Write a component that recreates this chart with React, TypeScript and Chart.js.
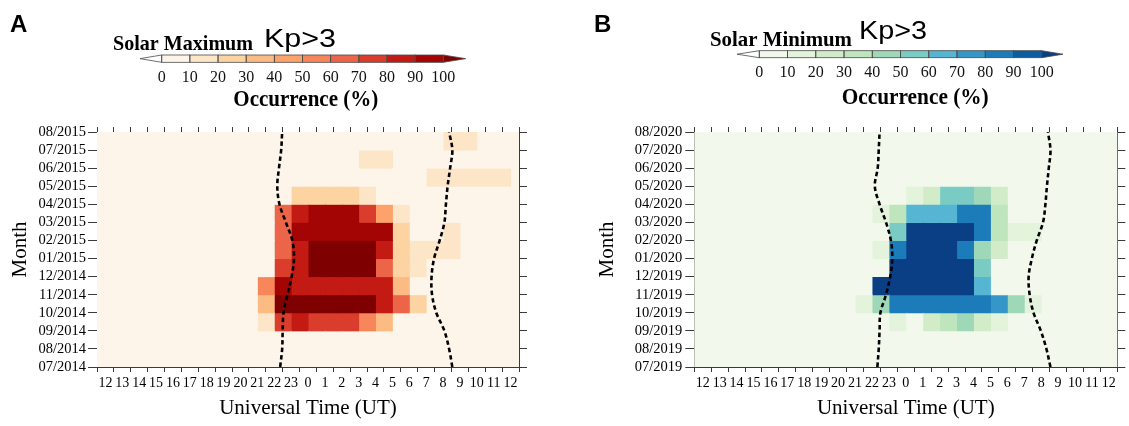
import React, { useEffect, useRef } from 'react';
import { Chart, registerables } from 'chart.js';

Chart.register(...registerables);

const SERIF = '"Liberation Serif", "Times New Roman", serif';
const SANS = '"Liberation Sans", Arial, sans-serif';

// ---------- data ----------
const xTickLabels = ['12', '13', '14', '15', '16', '17', '18', '19', '20', '21', '22', '23', '0', '1', '2', '3', '4', '5', '6', '7', '8', '9', '10', '11', '12'];

const maxMonthTicks = ['07/2014', '08/2014', '09/2014', '10/2014', '11/2014', '12/2014', '01/2015', '02/2015', '03/2015', '04/2015', '05/2015', '06/2015', '07/2015', '08/2015'];
const minMonthTicks = ['07/2019', '08/2019', '09/2019', '10/2019', '11/2019', '12/2019', '01/2020', '02/2020', '03/2020', '04/2020', '05/2020', '06/2020', '07/2020', '08/2020'];

const colorbarTicks = [0, 10, 20, 30, 40, 50, 60, 70, 80, 90, 100];

const maxColors = ['#fdf5ea', '#fde5c8', '#fdd3a1', '#fdbb84', '#fca26a', '#f7875a', '#ec6548', '#da3d2b', '#c31a13', '#a30404', '#7f0000'];
const minColors = ['#f2f9ec', '#e3f3dc', '#d2ecc9', '#bee5bc', '#9fd8b8', '#7acbc4', '#55b5d3', '#3597c7', '#1c7bb9', '#0b5ca0', '#0a3e85'];

// occurrence (%) per month row (bottom -> top) and UT hour column (12 UT ... 11 UT)
const maxOccurrence = [
  [0, 0, 0, 0, 0, 0, 0, 0, 0, 0, 0, 0, 0, 0, 0, 0, 0, 0, 0, 0, 0, 0, 0, 0],
  [0, 0, 0, 0, 0, 0, 0, 0, 0, 0, 0, 0, 0, 0, 0, 0, 0, 0, 0, 0, 0, 0, 0, 0],
  [0, 0, 0, 0, 0, 0, 0, 0, 0, 12, 74, 86, 73, 72, 74, 55, 38, 0, 0, 0, 0, 0, 0, 0],
  [0, 0, 0, 0, 0, 0, 0, 0, 0, 36, 100, 100, 100, 100, 100, 100, 85, 64, 22, 0, 0, 0, 0, 0],
  [0, 0, 0, 0, 0, 0, 0, 0, 0, 53, 94, 84, 83, 85, 84, 82, 84, 37, 0, 0, 0, 0, 0, 0],
  [0, 0, 0, 0, 0, 0, 0, 0, 0, 0, 76, 88, 100, 100, 100, 100, 66, 26, 13, 0, 0, 0, 0, 0],
  [0, 0, 0, 0, 0, 0, 0, 0, 0, 0, 66, 88, 100, 100, 100, 100, 86, 26, 13, 13, 13, 0, 0, 0],
  [0, 0, 0, 0, 0, 0, 0, 0, 0, 0, 65, 95, 96, 94, 95, 93, 92, 27, 0, 0, 12, 0, 0, 0],
  [0, 0, 0, 0, 0, 0, 0, 0, 0, 0, 64, 86, 95, 96, 94, 75, 44, 12, 0, 0, 0, 0, 0, 0],
  [0, 0, 0, 0, 0, 0, 0, 0, 0, 0, 0, 24, 26, 27, 25, 17, 0, 0, 0, 0, 0, 0, 0, 0],
  [0, 0, 0, 0, 0, 0, 0, 0, 0, 0, 0, 0, 0, 0, 0, 0, 0, 0, 0, 12, 11, 13, 12, 10],
  [0, 0, 0, 0, 0, 0, 0, 0, 0, 0, 0, 0, 0, 0, 0, 11, 12, 0, 0, 0, 0, 0, 0, 0],
  [0, 0, 0, 0, 0, 0, 0, 0, 0, 0, 0, 0, 0, 0, 0, 0, 0, 0, 0, 0, 12, 11, 0, 0],
];

const minOccurrence = [
  [0, 0, 0, 0, 0, 0, 0, 0, 0, 0, 0, 0, 0, 0, 0, 0, 0, 0, 0, 0, 0, 0, 0, 0],
  [0, 0, 0, 0, 0, 0, 0, 0, 0, 0, 0, 0, 0, 0, 0, 0, 0, 0, 0, 0, 0, 0, 0, 0],
  [0, 0, 0, 0, 0, 0, 0, 0, 0, 0, 0, 12, 0, 22, 33, 44, 22, 12, 0, 0, 0, 0, 0, 0],
  [0, 0, 0, 0, 0, 0, 0, 0, 0, 12, 44, 84, 84, 85, 84, 83, 84, 76, 42, 12, 0, 0, 0, 0],
  [0, 0, 0, 0, 0, 0, 0, 0, 0, 0, 100, 100, 100, 100, 100, 100, 66, 0, 0, 0, 0, 0, 0, 0],
  [0, 0, 0, 0, 0, 0, 0, 0, 0, 0, 0, 100, 100, 100, 100, 100, 58, 0, 0, 0, 0, 0, 0, 0],
  [0, 0, 0, 0, 0, 0, 0, 0, 0, 0, 14, 84, 100, 100, 100, 84, 43, 24, 0, 0, 0, 0, 0, 0],
  [0, 0, 0, 0, 0, 0, 0, 0, 0, 0, 0, 56, 100, 100, 100, 100, 84, 32, 12, 12, 0, 0, 0, 0],
  [0, 0, 0, 0, 0, 0, 0, 0, 0, 0, 13, 34, 65, 66, 65, 84, 84, 31, 0, 0, 0, 0, 0, 0],
  [0, 0, 0, 0, 0, 0, 0, 0, 0, 0, 0, 0, 13, 23, 56, 56, 43, 22, 0, 0, 0, 0, 0, 0],
  [0, 0, 0, 0, 0, 0, 0, 0, 0, 0, 0, 0, 0, 0, 0, 0, 0, 0, 0, 0, 0, 0, 0, 0],
  [0, 0, 0, 0, 0, 0, 0, 0, 0, 0, 0, 0, 0, 0, 0, 0, 0, 0, 0, 0, 0, 0, 0, 0],
  [0, 0, 0, 0, 0, 0, 0, 0, 0, 0, 0, 0, 0, 0, 0, 0, 0, 0, 0, 0, 0, 0, 0, 0],
];

// dashed terminator curves, UT at each month tick (bottom -> top)
const maxEveningUT = [22.35, 22.47, 22.5, 22.55, 22.78, 23.03, 23.17, 23.07, 22.69, 22.31, 22.18, 22.28, 22.41, 22.47];
const maxMorningUT = [8.55, 8.36, 8.08, 7.6, 7.35, 7.32, 7.47, 7.8, 8.08, 8.17, 8.27, 8.42, 8.55, 8.36];
const minEveningUT = [22.32, 22.4, 22.45, 22.5, 22.83, 23.08, 23.2, 23.12, 22.83, 22.45, 22.17, 22.34, 22.4, 22.45];
const minMorningUT = [8.55, 8.31, 7.98, 7.55, 7.32, 7.26, 7.45, 7.74, 8.11, 8.25, 8.34, 8.45, 8.55, 8.4];

// ---------- helpers ----------
function toAxisHour(ut: number) {
  return (ut - 12 + 24) % 24;
}
function binColor(v: number, colors: string[]) {
  return colors[Math.min(10, Math.floor(v / 10))];
}
function fitText(ctx: CanvasRenderingContext2D, text: string, x: number, baseline: number, font: string, width?: number) {
  ctx.save();
  ctx.font = font;
  ctx.textAlign = 'left';
  ctx.textBaseline = 'alphabetic';
  ctx.fillStyle = '#000';
  const w = ctx.measureText(text).width;
  const s = width ? width / w : 1;
  ctx.translate(x, baseline);
  ctx.scale(s, 1);
  ctx.fillText(text, 0, 0);
  ctx.restore();
}

type Deco = {
  letter: string; letterX: number; letterY: number;
  title: string; titleX: number; titleY: number; titleW: number; titleSize: number;
  kpX: number; kpY: number; kpW: number; kpSize: number;
  tipL: number; barX0: number; barX1: number; barY0: number; barY1: number; tipR: number;
  numY: number;
  occX: number; occY: number; occW: number; occSize: number;
};

type PanelSpec = {
  canvasLeft: number; canvasWidth: number;
  months: string[]; occurrence: number[][]; colors: string[];
  evening: number[]; morning: number[];
  yAxisWidth: number; rightPad: number; monthTitlePad: number; yTickPad: number;
  deco: Deco;
};

const maxSpec: PanelSpec = {
  canvasLeft: 0, canvasWidth: 580,
  months: maxMonthTicks, occurrence: maxOccurrence, colors: maxColors,
  evening: maxEveningUT, morning: maxMorningUT,
  yAxisWidth: 97, rightPad: 53, monthTitlePad: 8, yTickPad: 2,
  deco: {
    letter: 'A', letterX: 10, letterY: 32,
    title: 'Solar Maximum', titleX: 113, titleY: 50, titleW: 140, titleSize: 22,
    kpX: 264, kpY: 46.7, kpW: 72, kpSize: 26,
    tipL: 140, barX0: 161.7, barX1: 443.3, barY0: 55, barY1: 62.3, tipR: 465.7,
    numY: 77.3,
    occX: 233.3, occY: 106, occW: 145, occSize: 23,
  },
};

const minSpec: PanelSpec = {
  canvasLeft: 580, canvasWidth: 549,
  months: minMonthTicks, occurrence: minOccurrence, colors: minColors,
  evening: minEveningUT, morning: minMorningUT,
  yAxisWidth: 114.3, rightPad: 3.7, monthTitlePad: 15, yTickPad: 3,
  deco: {
    letter: 'B', letterX: 14, letterY: 31.5,
    title: 'Solar Minimum', titleX: 130, titleY: 46, titleW: 142, titleSize: 21,
    kpX: 279, kpY: 38.5, kpW: 68, kpSize: 25,
    tipL: 157, barX0: 179.3, barX1: 461.7, barY0: 50.7, barY1: 57.7, tipR: 483,
    numY: 72.5,
    occX: 261.7, occY: 104, occW: 147, occSize: 23,
  },
};

function makeConfig(spec: PanelSpec): any {
  const rowLabels = spec.months.slice(0, spec.months.length - 1);
  const datasets: any[] = [];
  for (let c = 0; c < 24; c++) {
    datasets.push({
      type: 'bar',
      indexAxis: 'y',
      xAxisID: 'x',
      yAxisID: 'yc',
      data: rowLabels.map(() => [c, c + 1]),
      backgroundColor: spec.occurrence.map((row) => binColor(row[c], spec.colors)),
      borderWidth: 0,
      barPercentage: 1,
      categoryPercentage: 1,
      grouped: false,
      inflateAmount: 0.5,
      order: 2,
    });
  }
  const lineStyle = {
    type: 'line',
    xAxisID: 'x',
    yAxisID: 'y',
    borderColor: '#000',
    borderWidth: 2.6,
    borderDash: [4.5, 3],
    pointRadius: 0,
    tension: 0.35,
    fill: false,
    order: 0,
  };
  datasets.push({ ...lineStyle, data: spec.evening.map((ut, i) => ({ x: toAxisHour(ut), y: i })) });
  datasets.push({ ...lineStyle, data: spec.morning.map((ut, i) => ({ x: toAxisHour(ut), y: i })) });

  const axisColor = '#3a3a3a';
  const d = spec.deco;

  const decor = {
    id: 'decor',
    beforeDatasetsDraw(chart: any) {
      const { ctx, chartArea: a } = chart;
      ctx.save();
      ctx.fillStyle = spec.colors[0];
      ctx.fillRect(a.left, a.top, a.right - a.left, a.bottom - a.top);
      ctx.restore();
    },
    afterDraw(chart: any) {
      const ctx: CanvasRenderingContext2D = chart.ctx;
      fitText(ctx, d.letter, d.letterX, d.letterY, `bold 24px ${SANS}`);
      fitText(ctx, d.title, d.titleX, d.titleY, `bold ${d.titleSize}px ${SERIF}`, d.titleW);
      fitText(ctx, 'Kp>3', d.kpX, d.kpY, `${d.kpSize}px ${SANS}`, d.kpW);
      fitText(ctx, 'Occurrence (%)', d.occX, d.occY, `bold ${d.occSize}px ${SERIF}`, d.occW);

      // colour bar
      const seg = (d.barX1 - d.barX0) / 10;
      const ym = (d.barY0 + d.barY1) / 2;
      ctx.save();
      ctx.lineWidth = 0.8;
      ctx.strokeStyle = '#4a4a4a';
      for (let i = 0; i < 10; i++) {
        ctx.fillStyle = spec.colors[i];
        ctx.fillRect(d.barX0 + i * seg, d.barY0, seg, d.barY1 - d.barY0);
      }
      ctx.beginPath();
      ctx.moveTo(d.tipL, ym);
      ctx.lineTo(d.barX0, d.barY0);
      ctx.lineTo(d.barX0, d.barY1);
      ctx.closePath();
      ctx.fillStyle = '#ffffff';
      ctx.fill();
      ctx.stroke();
      ctx.beginPath();
      ctx.moveTo(d.tipR, ym);
      ctx.lineTo(d.barX1, d.barY0);
      ctx.lineTo(d.barX1, d.barY1);
      ctx.closePath();
      ctx.fillStyle = spec.colors[10];
      ctx.fill();
      ctx.stroke();
      for (let i = 0; i < 10; i++) {
        ctx.strokeRect(d.barX0 + i * seg, d.barY0, seg, d.barY1 - d.barY0);
      }
      ctx.fillStyle = '#111';
      ctx.font = `16px ${SERIF}`;
      ctx.textAlign = 'center';
      ctx.textBaseline = 'middle';
      colorbarTicks.forEach((t, i) => {
        ctx.fillText(String(t), d.barX0 + i * seg, d.numY);
      });
      ctx.restore();
    },
  };

  return {
    type: 'bar',
    data: { labels: rowLabels, datasets },
    plugins: [decor],
    options: {
      responsive: false,
      animation: false,
      devicePixelRatio: 1,
      layout: { padding: { top: 127, left: 0, right: spec.rightPad, bottom: 0 } },
      plugins: { legend: { display: false }, tooltip: { enabled: false } },
      events: [],
      scales: {
        x: {
          type: 'linear', position: 'bottom', min: 0, max: 24,
          ticks: {
            stepSize: 1, autoSkip: false, maxRotation: 0, minRotation: 0, padding: 3, color: '#000',
            font: { family: SERIF, size: 14 },
            callback: (v: any) => xTickLabels[Math.round(Number(v))] ?? '',
          },
          grid: { drawOnChartArea: false, drawTicks: true, tickLength: 5, color: axisColor, lineWidth: 1 },
          border: { display: true, color: axisColor, width: 1 },
          title: { display: true, text: 'Universal Time (UT)', color: '#000', font: { family: SERIF, size: 21 }, padding: { top: 0, bottom: 5 } },
          afterFit: (s: any) => { s.height = 59; },
        },
        xt: {
          type: 'linear', position: 'top', min: 0, max: 24,
          ticks: { stepSize: 1, display: false },
          grid: { drawOnChartArea: false, drawTicks: true, tickLength: 5, color: axisColor },
          border: { display: true, color: axisColor, width: 1 },
          afterFit: (s: any) => { s.height = 5; },
        },
        y: {
          type: 'linear', position: 'left', min: 0, max: 13,
          ticks: {
            stepSize: 1, autoSkip: false, padding: spec.yTickPad, color: '#000',
            font: { family: SERIF, size: 14.5 },
            callback: (v: any) => spec.months[Math.round(Number(v))] ?? '',
          },
          grid: { drawOnChartArea: false, drawTicks: true, tickLength: 9, color: axisColor },
          border: { display: true, color: axisColor, width: 1 },
          title: { display: true, text: 'Month', color: '#000', font: { family: SERIF, size: 21 }, padding: { top: spec.monthTitlePad, bottom: 0 } },
          afterFit: (s: any) => { s.width = spec.yAxisWidth; },
        },
        yr: {
          type: 'linear', position: 'right', min: 0, max: 13,
          ticks: { stepSize: 1, display: false },
          grid: { drawOnChartArea: false, drawTicks: true, tickLength: 8, color: axisColor },
          border: { display: true, color: axisColor, width: 1 },
          afterFit: (s: any) => { s.width = 8; },
        },
        yc: {
          type: 'category', display: false, reverse: true, offset: true,
          grid: { offset: true },
        },
      },
    },
  };
}

function Panel({ spec }: { spec: PanelSpec }) {
  const ref = useRef<HTMLCanvasElement>(null);
  useEffect(() => {
    const chart = new Chart(ref.current as HTMLCanvasElement, makeConfig(spec));
    return () => chart.destroy();
  }, [spec]);
  return (
    <canvas
      ref={ref}
      width={spec.canvasWidth}
      height={426}
      style={{ position: 'absolute', left: spec.canvasLeft, top: 0, width: spec.canvasWidth, height: 426, display: 'block' }}
    />
  );
}

export default function App() {
  return (
    <div style={{ position: 'absolute', left: 0, top: 0, width: 1129, height: 426, background: '#ffffff', overflow: 'hidden' }}>
      <Panel spec={maxSpec} />
      <Panel spec={minSpec} />
    </div>
  );
}
